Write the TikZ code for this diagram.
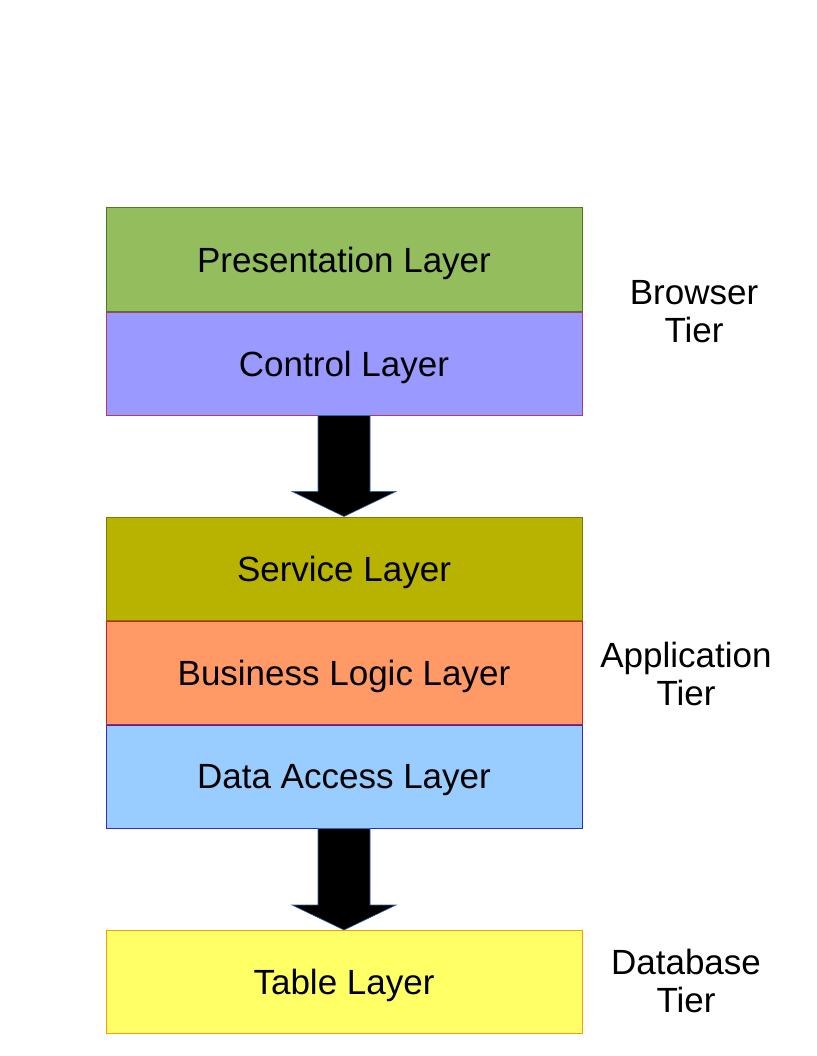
\documentclass[tikz,border=0pt]{standalone}
\usepackage{fontspec}
\setmainfont{Liberation Sans}
\usepackage{tikz}
\usetikzlibrary{positioning,calc}

\definecolor{presfill}{HTML}{94BD5E}
\definecolor{presline}{HTML}{4E7A1E}
\definecolor{ctlfill}{HTML}{9999FF}
\definecolor{ctlline}{HTML}{B03A6A}
\definecolor{svcfill}{HTML}{B8B300}
\definecolor{svcline}{HTML}{7F7A00}
\definecolor{bllfill}{HTML}{FF9966}
\definecolor{bllline}{HTML}{C9211E}
\definecolor{dalfill}{HTML}{99CCFF}
\definecolor{dalline}{HTML}{2A2AE0}
\definecolor{tblfill}{HTML}{FFFF66}
\definecolor{tblline}{HTML}{FF9900}
\definecolor{arrline}{HTML}{3465A4}

\begin{document}
\begin{tikzpicture}[x=1pt,y=-1pt,
  layer/.style n args={2}{draw=#2,fill=#1,line width=1pt,minimum width=476pt,minimum height=103pt,inner sep=0pt,text depth=0pt,font=\fontsize{35}{40}\selectfont},
  tier/.style={align=center,font=\fontsize{35}{38}\selectfont},
  bigarrow/.style={fill=black,draw=arrline,line width=0.6pt,line join=miter}]
\useasboundingbox (0,0) rectangle (816,1056);
% browser tier
\node[layer={presfill}{presline}] (pres) at (344,259.5) {Presentation Layer};
\node[layer={ctlfill}{ctlline},below=0pt of pres] (ctl) {Control Layer};
% application tier
\node[layer={svcfill}{svcline}] (svc) at (344,568.5) {Service Layer};
\node[layer={bllfill}{bllline},below=0pt of svc] (bll) {Business Logic Layer};
\node[layer={dalfill}{dalline},below=0pt of bll] (dal) {Data Access Layer};
% database tier
\node[layer={tblfill}{tblline}] (tbl) at (344,982) {Table Layer};
% tier names
\node[tier] (browser) at (694,312) {Browser\\Tier};
\node[tier] (application) at (686,674) {Application\\Tier};
\node[tier] (database) at (686,981) {Database\\Tier};
% arrows between tiers
\foreach \a/\b in {ctl/svc,dal/tbl} {
  \draw[bigarrow] ($(\a.south)+(-26,0)$) -- ($(\b.north)+(-26,-25)$)
    -- ($(\b.north)+(-52,-25)$) -- (\b.north) -- ($(\b.north)+(52,-25)$)
    -- ($(\b.north)+(26,-25)$) -- ($(\a.south)+(26,0)$) -- cycle;
}
\end{tikzpicture}
\end{document}
